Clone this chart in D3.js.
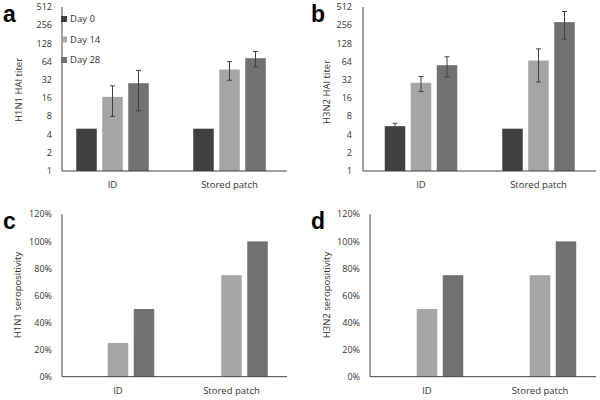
<!DOCTYPE html>
<meta charset="utf-8">
<body style="margin:0;background:#fff">
<style>
  text { font-family: "Open Sans", sans-serif; fill: #333; }
  .letter { font-family: "Liberation Sans", Arial, sans-serif; font-weight: bold; fill: #000; }
</style>
<script src="https://d3js.org/d3.v7.min.js"></script>
<script>
var width = 600, height = 400;

var categories = ["ID", "Stored patch"];
var days = ["Day 0", "Day 14", "Day 28"];
var dayColors = ["#404040", "#a5a5a5", "#717171"];

var titerTicks = [1, 2, 4, 8, 16, 32, 64, 128, 256, 512];
var seroTicks = [0, 20, 40, 60, 80, 100, 120];

// geometric mean titers, error bar low / high
var h1n1Titer = [[5, 16.8, 28.2], [5, 47.4, 73]];
var h1n1Low   = [[5, 8, 9.9], [5, 31.6, 52.5]];
var h1n1High  = [[5, 25.5, 46], [5, 64, 94]];

var h3n2Titer = [[5.5, 28.6, 56], [5, 66.7, 288]];
var h3n2Low   = [[4.9, 20.5, 35.9], [5, 29.6, 151]];
var h3n2High  = [[6.15, 36.3, 77], [5, 104, 431]];

// seropositivity (%)
var h1n1Sero = [[0, 25, 50], [0, 75, 100]];
var h3n2Sero = [[0, 50, 75], [0, 75, 100]];

var svg = d3.select("body").append("svg")
  .attr("width", width)
  .attr("height", height);

var panels = [
  {letter: "a", lx: 3, ly: 22, label: "H1N1 HAI titer", labX: 19, labY: 90,
   x0: 62, x1: 287, top: 7, bottom: 171, c1: 112.5, c2: 229.5, tickX: 52,
   log: true, vals: h1n1Titer, lo: h1n1Low, hi: h1n1High, legend: true},
  {letter: "b", lx: 311, ly: 22, label: "H3N2 HAI titer", labX: 327, labY: 92,
   x0: 363, x1: 596, top: 7, bottom: 171, c1: 421, c2: 538.5, tickX: 352,
   log: true, vals: h3n2Titer, lo: h3n2Low, hi: h3n2High},
  {letter: "c", lx: 3, ly: 229, label: "H1N1 seropositivity", labX: 18, labY: 295,
   x0: 62, x1: 287, top: 214.3, bottom: 376.7, c1: 118, c2: 231.5, tickX: 52,
   log: false, vals: h1n1Sero},
  {letter: "d", lx: 311, ly: 229, label: "H3N2 seropositivity", labX: 327, labY: 295,
   x0: 370, x1: 596, top: 214.3, bottom: 376.7, c1: 427, c2: 540, tickX: 360,
   log: false, vals: h3n2Sero}
];

panels.forEach(function(p) {
  var g = svg.append("g");
  var step = p.c2 - p.c1;
  var x = d3.scaleBand().domain(categories).range([p.c1 - step / 2, p.c2 + step / 2]);
  var xi = d3.scaleBand().domain(days).range([-36.25, 36.25]).paddingInner(5.5 / 26);
  var y;
  if (p.log) {
    y = d3.scaleLog().base(2).domain([1, 512]).range([p.bottom, p.top]);
  } else {
    y = d3.scaleLinear().domain([0, 120]).range([p.bottom, p.top]);
  }
  var ticks = p.log ? titerTicks : seroTicks;

  // bars
  var rows = [];
  categories.forEach(function(c, ci) {
    days.forEach(function(d, di) {
      rows.push({cat: c, day: d, di: di, v: p.vals[ci][di],
        lo: p.lo ? p.lo[ci][di] : null, hi: p.hi ? p.hi[ci][di] : null});
    });
  });

  g.selectAll("rect.bar")
    .data(rows.filter(function(d) { return d.v > 0; }))
    .enter().append("rect")
    .attr("class", "bar")
    .attr("x", function(d) { return x(d.cat) + x.bandwidth() / 2 + xi(d.day); })
    .attr("y", function(d) { return y(d.v); })
    .attr("width", xi.bandwidth())
    .attr("height", function(d) { return p.bottom - y(d.v); })
    .attr("fill", function(d) { return dayColors[d.di]; });

  // error bars
  if (p.lo) {
    var eb = g.selectAll("g.err")
      .data(rows.filter(function(d) { return d.hi > d.lo; }))
      .enter().append("g")
      .attr("stroke", "#404040")
      .attr("stroke-width", 1)
      .attr("transform", function(d) {
        return "translate(" + (x(d.cat) + x.bandwidth() / 2 + xi(d.day) + xi.bandwidth() / 2) + ",0)";
      });
    eb.append("line")
      .attr("y1", function(d) { return y(d.lo); })
      .attr("y2", function(d) { return y(d.hi); });
    eb.append("line").attr("x1", -2.5).attr("x2", 2.5)
      .attr("y1", function(d) { return y(d.hi); })
      .attr("y2", function(d) { return y(d.hi); });
    eb.append("line").attr("x1", -2.5).attr("x2", 2.5)
      .attr("y1", function(d) { return y(d.lo); })
      .attr("y2", function(d) { return y(d.lo); });
  }

  // axes lines
  g.append("line")
    .attr("x1", p.x0).attr("x2", p.x0)
    .attr("y1", p.top).attr("y2", p.bottom)
    .attr("stroke", "#404040");
  g.append("line")
    .attr("x1", p.x0).attr("x2", p.x1)
    .attr("y1", p.bottom).attr("y2", p.bottom)
    .attr("stroke", "#404040");

  // y tick labels
  g.selectAll("text.ytick")
    .data(ticks)
    .enter().append("text")
    .attr("class", "ytick")
    .attr("x", p.tickX)
    .attr("y", function(d) { return y(d); })
    .attr("dy", "0.35em")
    .attr("text-anchor", "end")
    .style("font-size", "9px")
    .text(function(d) { return p.log ? d : d + "%"; });

  // x labels
  g.selectAll("text.xtick")
    .data(categories)
    .enter().append("text")
    .attr("class", "xtick")
    .attr("x", function(d) { return x(d) + x.bandwidth() / 2; })
    .attr("y", p.bottom + 17)
    .attr("text-anchor", "middle")
    .style("font-size", "9.5px")
    .text(function(d) { return d; });

  // y axis title
  g.append("text")
    .attr("transform", "translate(" + p.labX + "," + p.labY + ") rotate(-90)")
    .attr("text-anchor", "middle")
    .attr("dy", "0.35em")
    .style("font-size", "9.5px")
    .text(p.label);

  // panel letter
  g.append("text")
    .attr("class", "letter")
    .attr("x", p.lx)
    .attr("y", p.ly)
    .style("font-size", "23px")
    .text(p.letter);

  if (p.legend) {
    var lg = g.selectAll("g.leg")
      .data(days)
      .enter().append("g")
      .attr("transform", function(d, i) { return "translate(61," + (16 + i * 20.5) + ")"; });
    lg.append("rect")
      .attr("width", 6).attr("height", 6)
      .attr("fill", function(d, i) { return dayColors[i]; });
    lg.append("text")
      .attr("x", 9)
      .attr("y", 3)
      .attr("dy", "0.35em")
      .style("font-size", "9.5px")
      .text(function(d) { return d; });
  }
});
</script>
</body>
